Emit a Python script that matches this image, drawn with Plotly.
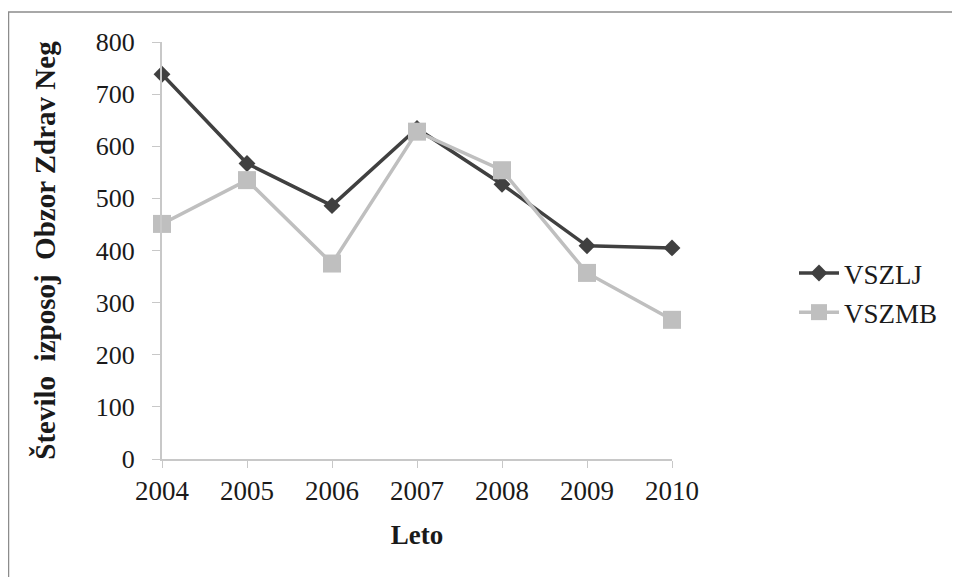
import plotly.graph_objects as go

years = [2004, 2005, 2006, 2007, 2008, 2009, 2010]
vszlj = [738, 567, 486, 634, 527, 409, 405]
vszmb = [451, 535, 375, 628, 554, 357, 267]
y_ticks = [0, 100, 200, 300, 400, 500, 600, 700, 800]

FONT = "Times New Roman, Liberation Serif, serif"
TXT = "#1a1a1a"
fig = go.Figure()
fig.add_trace(go.Scatter(x=years, y=vszlj, name="VSZLJ", mode="lines+markers",
                         legendgroup="a", cliponaxis=False,
                         line=dict(color="#404040", width=3.5),
                         marker=dict(symbol="diamond", size=13, color="#404040")))
fig.add_trace(go.Scatter(x=years, y=vszmb, name="VSZMB", mode="lines+markers",
                         legendgroup="b", cliponaxis=False,
                         line=dict(color="#bfbfbf", width=3.5),
                         marker=dict(symbol="square", size=18, color="#bfbfbf")))

# page is offset by the 8px body margin; work in figure coordinates
L, R, T, B = 154, 296, 34, 126
W, H = 960, 577
pw, ph = W - L - R, H - T - B

def px2x(px):
    return (px - L) / pw

def py2y(py):
    return (H - B - py) / ph

fig.update_layout(
    width=W, height=H,
    margin=dict(l=L, r=R, t=T, b=B),
    paper_bgcolor="white", plot_bgcolor="white",
    font=dict(family=FONT, size=24, color=TXT),
    showlegend=True,
    legend=dict(x=px2x(786), y=py2y(241), xanchor="left", yanchor="top",
                font=dict(family=FONT, size=27, color=TXT),
                tracegroupgap=1, itemwidth=40, bgcolor="rgba(0,0,0,0)"),
    xaxis=dict(range=[2004, 2010], tickvals=years, ticktext=[str(y) for y in years],
               showgrid=False, zeroline=False, showline=True, linecolor="#c8c8c8",
               linewidth=2, ticks="outside", ticklen=7, tickcolor="#c8c8c8",
               tickfont=dict(family=FONT, size=27, color=TXT),
               title=dict(text="<b>Leto</b>", font=dict(family=FONT, size=27, color=TXT),
                          standoff=20)),
    yaxis=dict(range=[0, 800], tickvals=y_ticks, showgrid=False, zeroline=False,
               showline=True, linecolor="#c8c8c8", linewidth=2, ticks="outside",
               ticklen=8, tickcolor="#c8c8c8", ticklabelstandoff=12,
               tickfont=dict(family=FONT, size=26, color=TXT),
               title=dict(text="<b>Število  izposoj  Obzor Zdrav Neg</b>",
                          font=dict(family=FONT, size=29, color=TXT), standoff=32)),
    shapes=[dict(type="rect", xref="paper", yref="paper",
                 x0=px2x(0.5), x1=px2x(1000), y0=py2y(620), y1=py2y(4),
                 line=dict(color="#8c8c8c", width=1.5), fillcolor="rgba(0,0,0,0)",
                 layer="below")],
)

fig.write_html("out.html")
